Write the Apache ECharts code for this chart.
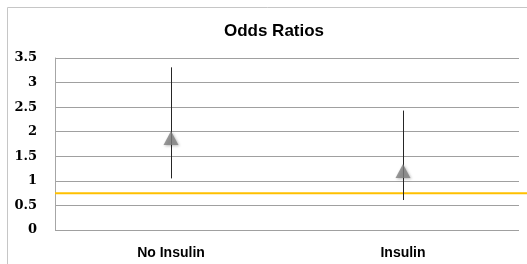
<!DOCTYPE html>
<html>
<head>
<meta charset="utf-8">
<script src="https://cdn.jsdelivr.net/npm/echarts@6/dist/echarts.min.js"></script>
<style>
  html, body { margin: 0; padding: 0; background: #fff; }
  #chart { width: 527px; height: 264px; }
</style>
</head>
<body>
<div id="chart"></div>
<script>
const categories = ['No Insulin', 'Insulin']
const oddsRatio = [1.87, 1.2]
const lowerCI = [1.05, 0.61]
const upperCI = [3.31, 2.43]
const refLine = 0.75
const yTicks = ['0', '0.5', '1', '1.5', '2', '2.5', '3', '3.5']

const chart = echarts.init(document.getElementById('chart'))

chart.setOption({
  animation: false,
  title: {
    text: 'Odds Ratios',
    left: 269,
    top: 18,
    textAlign: 'center',
    textStyle: { fontFamily: 'Liberation Sans', fontWeight: 'bold', fontSize: 17, color: '#000' },
  },
  graphic: [{
    type: 'rect',
    shape: { x: 7.5, y: 7.5, width: 530, height: 270 },
    style: { fill: 'none', stroke: '#c6c6c6', lineWidth: 1 },
    silent: true,
  }],
  grid: [
    { left: 55, right: 8, top: 58, bottom: 34 },
    { left: 55, right: 0, top: 58, bottom: 34 },
  ],
  xAxis: [
    {
      type: 'category',
      gridIndex: 0,
      data: categories,
      boundaryGap: true,
      axisLine: { show: false },
      axisTick: { show: false },
      axisLabel: {
        margin: 16,
        color: '#000',
        fontFamily: 'Liberation Sans',
        fontWeight: 'bold',
        fontSize: 14,
      },
    },
    { type: 'value', gridIndex: 1, min: 0, max: 1, show: false },
  ],
  yAxis: [
    {
      type: 'value',
      gridIndex: 0,
      min: 0,
      max: 3.5,
      interval: 0.5,
      axisLine: { show: true, lineStyle: { color: '#a6a6a6' } },
      axisTick: { show: false },
      splitLine: { lineStyle: { color: '#a0a0a0', width: 1 } },
      axisLabel: {
        margin: 18,
        color: '#000',
        fontFamily: 'DejaVu Serif',
        fontWeight: 'bold',
        fontSize: 13,
        formatter: (v) => yTicks[Math.round(v * 2)],
      },
    },
    { type: 'value', gridIndex: 1, min: 0, max: 3.5, show: false },
  ],
  series: [
    {
      type: 'line',
      xAxisIndex: 1,
      yAxisIndex: 1,
      data: [[0, refLine], [1, refLine]],
      symbol: 'none',
      lineStyle: { color: '#ffc000', width: 2 },
      z: 3,
    },
    {
      type: 'custom',
      xAxisIndex: 0,
      yAxisIndex: 0,
      data: categories.map((c, i) => [i, lowerCI[i], upperCI[i]]),
      renderItem: (params, api) => {
        const lo = api.coord([api.value(0), api.value(1)])
        const hi = api.coord([api.value(0), api.value(2)])
        const x = Math.round(lo[0]) + 0.5
        return {
          type: 'line',
          shape: { x1: x, y1: lo[1], x2: x, y2: hi[1] },
          style: { stroke: '#262626', lineWidth: 1 },
        }
      },
      z: 4,
    },
    {
      type: 'scatter',
      xAxisIndex: 0,
      yAxisIndex: 0,
      data: oddsRatio,
      symbol: 'triangle',
      symbolSize: [15, 14],
      itemStyle: {
        color: '#7f7f7f',
        shadowColor: 'rgba(0,0,0,0.35)',
        shadowBlur: 3,
        shadowOffsetX: 1,
        shadowOffsetY: 1,
      },
      z: 5,
    },
  ],
})
</script>
</body>
</html>
